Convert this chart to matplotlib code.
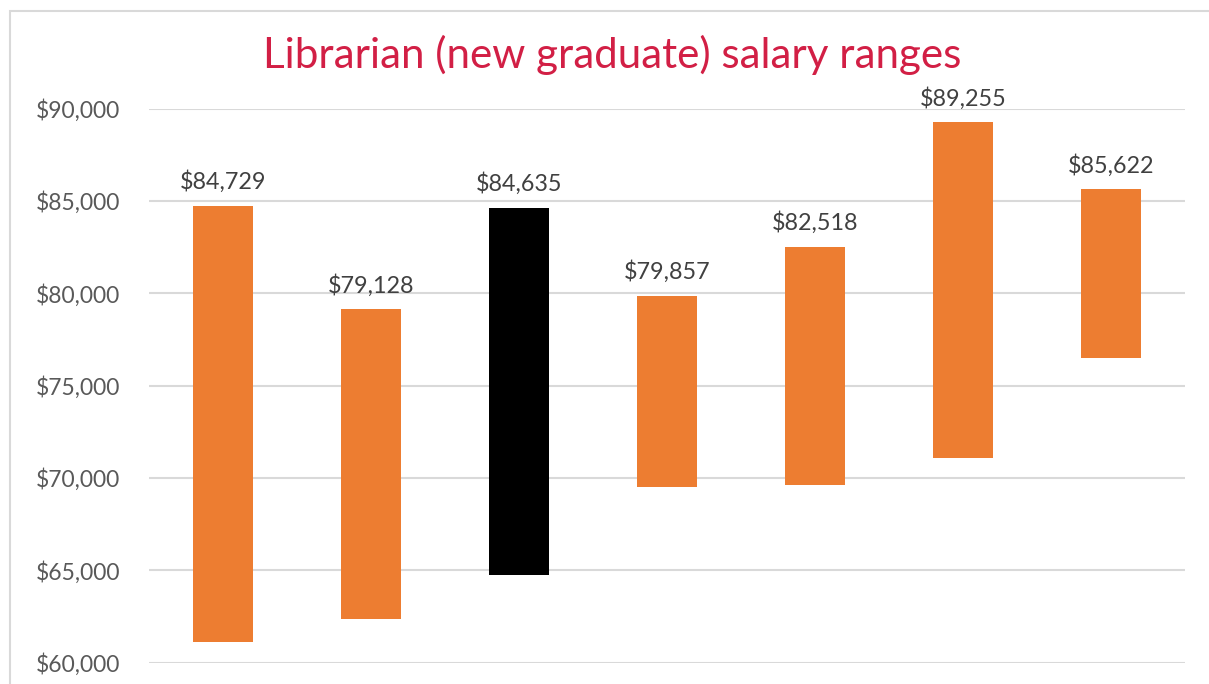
import matplotlib.pyplot as plt
from matplotlib.patches import Rectangle
from matplotlib.ticker import FuncFormatter

plt.rcParams['font.family'] = ['Lato', 'DejaVu Sans']

# salary range per group (low, high)
groups = ['A', 'B', 'C', 'D', 'E', 'F', 'G']
low = [61126, 62339, 64738, 69520, 69596, 71058, 76490]
high = [84729, 79128, 84635, 79857, 82518, 89255, 85622]
colors = ['#ED7D31', '#ED7D31', '#000000', '#ED7D31', '#ED7D31', '#ED7D31', '#ED7D31']

fig = plt.figure(figsize=(12.09, 6.84), dpi=100)
ax = fig.add_axes([149 / 1209, 21.5 / 684, 1036 / 1209, 554 / 684])

x = range(len(groups))
heights = [h - l for h, l in zip(high, low)]
ax.bar(x, heights, bottom=low, width=0.4, color=colors, zorder=3)

for i, h in enumerate(high):
    ax.annotate(f'${h:,}', (i, h), xytext=(0, 9), textcoords='offset points',
                ha='center', va='bottom', fontsize=16.8, color='#404040',
                annotation_clip=False)

ax.set_xlim(-0.5, len(groups) - 0.5)
ax.set_ylim(60000, 90000)
ax.set_yticks(range(60000, 90001, 5000))
ax.yaxis.set_major_formatter(FuncFormatter(lambda v, p: f'${v:,.0f}'))
ax.tick_params(axis='y', length=0, pad=21, labelsize=16.5, labelcolor='#595959')
ax.set_xticks([])
ax.grid(axis='y', color='#D9D9D9', linewidth=1.5, zorder=0)
for s in ax.spines.values():
    s.set_visible(False)

fig.text(612 / 1209, 1 - 55 / 684, 'Librarian (new graduate) salary ranges',
         ha='center', va='center', fontsize=30.3, color='#D21F45')

# chart frame
fig.patches.append(Rectangle((10 / 1209, -0.5), 2, 0.5 + (684 - 11) / 684,
                             transform=fig.transFigure, fill=False,
                             edgecolor='#D9D9D9', linewidth=1.5))

fig.savefig('out.png', dpi=100)
